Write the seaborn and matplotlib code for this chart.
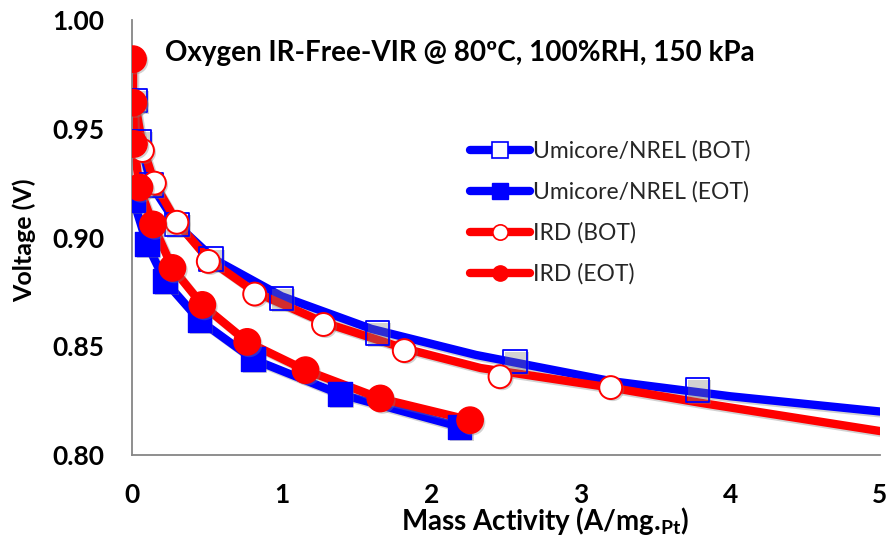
import matplotlib
matplotlib.use("Agg")
import matplotlib.pyplot as plt
import matplotlib.patheffects as pe
from matplotlib.lines import Line2D
import seaborn as sns
import pandas as pd

# ---- data ----
umi_bot_x = [0.02, 0.05, 0.13, 0.30, 0.53, 1.00, 1.64, 2.56, 3.78]
umi_bot_y = [0.963, 0.944, 0.924, 0.906, 0.890, 0.872, 0.856, 0.843, 0.830]
umi_eot_x = [0.01, 0.10, 0.22, 0.45, 0.81, 1.39, 2.19]
umi_eot_y = [0.917, 0.897, 0.880, 0.862, 0.844, 0.828, 0.813]
ird_bot_x = [0.02, 0.07, 0.15, 0.30, 0.51, 0.82, 1.28, 1.82, 2.46, 3.20]
ird_bot_y = [0.962, 0.940, 0.925, 0.907, 0.889, 0.874, 0.860, 0.848, 0.836, 0.831]
ird_eot_x = [0.007, 0.007, 0.013, 0.05, 0.14, 0.27, 0.47, 0.77, 1.16, 1.66, 2.26]
ird_eot_y = [0.982, 0.962, 0.943, 0.923, 0.906, 0.886, 0.869, 0.852, 0.839, 0.826, 0.816]

# fitted curves drawn through / beyond the data
umi_bot_fit_x = [0.01, 0.05, 0.13, 0.30, 0.55, 1.00, 1.60, 2.30, 3.20, 4.00, 5.00]
umi_bot_fit_y = [0.966, 0.945, 0.924, 0.906, 0.890, 0.873, 0.858, 0.846, 0.834, 0.827, 0.820]
ird_bot_fit_x = [0.02, 0.07, 0.15, 0.30, 0.51, 0.82, 1.28, 1.82, 2.33, 3.20, 3.80, 5.00]
ird_bot_fit_y = [0.962, 0.942, 0.925, 0.907, 0.890, 0.875, 0.861, 0.849, 0.840, 0.831, 0.824, 0.811]

labels = ["Umicore/NREL (BOT)", "Umicore/NREL (EOT)", "IRD (BOT)", "IRD (EOT)"]
x_ticks = [0, 1, 2, 3, 4, 5]
y_ticks = [0.80, 0.85, 0.90, 0.95, 1.00]

BLUE = "#0000FF"
RED = "#FF0000"

sns.set_theme(style="white")
plt.rcParams["font.family"] = ["Lato", "DejaVu Sans"]
plt.rcParams["mathtext.fontset"] = "custom"
plt.rcParams["mathtext.rm"] = "Lato"
plt.rcParams["mathtext.bf"] = "Lato:bold"

fig = plt.figure(figsize=(8.95, 5.41), dpi=100)
ax = fig.add_axes([132/895, 1-455/541, 748/895, 435/541])

line_shadow = [pe.SimpleLineShadow(offset=(1.5, -1.5), shadow_color="#808080", alpha=0.35), pe.Normal()]
mark_shadow = [pe.SimplePatchShadow(offset=(1.5, -1.5), shadow_rgbFace="#808080", alpha=0.35), pe.Normal()]
LW = 6.0

def line(x, y, color):
    df = pd.DataFrame({"x": x, "y": y})
    sns.lineplot(data=df, x="x", y="y", sort=False, estimator=None, color=color,
                 linewidth=LW, ax=ax, solid_capstyle="round", solid_joinstyle="round")
    ax.lines[-1].set_path_effects(line_shadow)

def pts(x, y, marker, face, edge, size, lw):
    df = pd.DataFrame({"x": x, "y": y})
    sns.scatterplot(data=df, x="x", y="y", marker=marker, s=size**2, facecolor=face,
                    edgecolor=edge, linewidth=lw, ax=ax, zorder=3)
    ax.collections[-1].set_path_effects(mark_shadow)

# Umicore
line(umi_bot_fit_x, umi_bot_fit_y, BLUE)
pts(umi_bot_x, umi_bot_y, "s", "none", BLUE, 17, 1.3)
line(umi_eot_x, umi_eot_y, BLUE)
pts(umi_eot_x, umi_eot_y, "s", BLUE, BLUE, 17, 1.0)
# IRD
line(ird_bot_fit_x, ird_bot_fit_y, RED)
pts(ird_bot_x, ird_bot_y, "o", "white", RED, 16.5, 1.4)
line(ird_eot_x, ird_eot_y, RED)
pts(ird_eot_x, ird_eot_y, "o", RED, RED, 19, 1.0)

ax.set_xlim(0, 5)
ax.set_ylim(0.80, 1.00)
ax.set_xticks(x_ticks)
ax.set_xticklabels([str(t) for t in x_ticks])
ax.set_yticks(y_ticks)
ax.set_yticklabels([f"{t:.2f}" for t in y_ticks])

sns.despine(ax=ax)
for s in ["left", "bottom"]:
    ax.spines[s].set_color("#868686")
    ax.spines[s].set_linewidth(1.3)
ax.tick_params(axis="both", which="major", direction="out", length=6, width=1.3,
               color="#868686", labelsize=19, labelcolor="black")
ax.tick_params(axis="y", pad=14)
ax.tick_params(axis="x", pad=14)
for t in ax.get_xticklabels() + ax.get_yticklabels():
    t.set_fontweight("bold")

ax.set_xlabel(r"Mass Activity (A/mg.$_{\mathbf{Pt}}$)", fontsize=20, fontweight="bold", color="black")
ax.xaxis.set_label_coords(0.552, -0.115)
ax.set_ylabel("Voltage (V)", fontsize=18, fontweight="bold", color="black")
ax.yaxis.set_label_coords(-0.128, 0.494)

ax.text(0.044, 0.925, "Oxygen IR-Free-VIR @ 80ºC, 100%RH, 150 kPa", transform=ax.transAxes,
        fontsize=20, fontweight="bold", ha="left", va="center", color="black")

handles = [
    Line2D([], [], color=BLUE, lw=LW, marker="s", markersize=11, markerfacecolor="white",
           markeredgecolor=BLUE, markeredgewidth=1.2, solid_capstyle="round"),
    Line2D([], [], color=BLUE, lw=LW, marker="s", markersize=11, markerfacecolor=BLUE,
           markeredgecolor=BLUE, solid_capstyle="round"),
    Line2D([], [], color=RED, lw=LW, marker="o", markersize=11, markerfacecolor="white",
           markeredgecolor=RED, markeredgewidth=1.2, solid_capstyle="round"),
    Line2D([], [], color=RED, lw=LW, marker="o", markersize=11, markerfacecolor=RED,
           markeredgecolor=RED, solid_capstyle="round"),
]
leg = ax.legend(handles, labels, loc="upper left", bbox_to_anchor=(0.44, 0.745),
                frameon=False, fontsize=16.5, handlelength=2.6, handletextpad=0.15,
                labelspacing=0.85, borderaxespad=0)

fig.savefig("out.png", dpi=100)
